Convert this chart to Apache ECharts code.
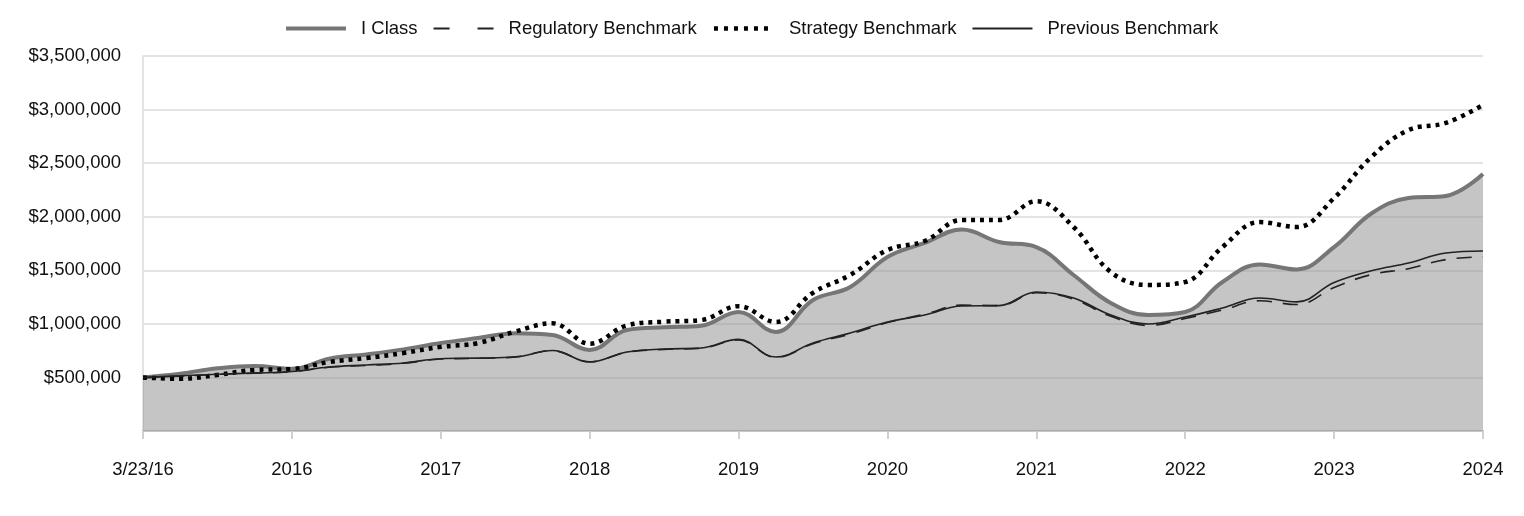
<!DOCTYPE html>
<html>
<head>
<meta charset="utf-8">
<script src="https://cdn.jsdelivr.net/npm/echarts@6/dist/echarts.min.js"></script>
<style>
html,body{margin:0;padding:0;background:#fff;}
#chart{width:1524px;height:516px;}
</style>
</head>
<body>
<div id="chart"></div>
<script>
// Tick labels (one per year, quarterly data points between them)
const tickLabels = ['3/23/16','2016','2017','2018','2019','2020','2021','2022','2023','2024'];
const pointsPerTick = 4;

// Series values (in thousands of dollars), quarterly
const iClass = [500,535,585,607,580,675,715,762,821,868,912,896,756,943,968,982,1111,924,1223,1344,1624,1755,1880,1764,1717,1456,1195,1083,1111,1391,1555,1508,1717,2030,2175,2193,2398];
const regulatory = [500,512,528,540,553,595,612,632,672,678,692,750,646,735,762,773,850,688,815,905,1012,1090,1175,1170,1290,1230,1070,985,1050,1130,1215,1180,1340,1460,1515,1600,1625];
const strategy = [500,487,523,570,578,644,681,728,785,821,928,1005,815,985,1020,1036,1165,1017,1290,1456,1689,1773,1969,1969,2145,1904,1484,1363,1391,1717,1950,1904,2175,2557,2809,2875,3043];
const previous = [500,515,530,541,555,597,616,635,675,680,690,752,644,737,765,775,855,690,821,915,1017,1083,1167,1170,1297,1241,1083,999,1064,1148,1241,1205,1385,1495,1568,1661,1680];

const seriesNames = ['I Class','Regulatory Benchmark','Strategy Benchmark','Previous Benchmark'];

const categories = [];
for (let i = 0; i < (tickLabels.length - 1) * pointsPerTick + 1; i++) {
  categories.push(i % pointsPerTick === 0 ? tickLabels[i / pointsPerTick] : '');
}
const k = v => v * 1000;

const styles = [
  {color: '#767676', width: 4, type: 'solid'},
  {color: '#222', width: 1.6, type: [15, 11]},
  {color: '#000', width: 4.5, type: [4, 5]},
  {color: '#222', width: 1.6, type: 'solid'}
];
const legendStyles = [
  {color: '#767676', width: 4, type: 'solid'},
  {color: '#222', width: 2, type: [16, 28]},
  {color: '#000', width: 4.5, type: [4, 6]},
  {color: '#222', width: 1.8, type: 'solid'}
];

const chart = echarts.init(document.getElementById('chart'), null, {renderer: 'canvas'});
const font = 'Liberation Sans, Arial, sans-serif';
const fs = 18.5;
chart.setOption({
  animation: false,
  textStyle: {fontFamily: font},
  legend: {
    top: 14,
    left: 279,
    itemWidth: 60,
    itemHeight: 12,
    itemGap: 15,
    itemStyle: {opacity: 0},
    textStyle: {fontSize: fs, color: '#111', fontFamily: font, padding: [0, 0, 0, 10]},
    data: seriesNames.map((n, i) => ({name: n, lineStyle: legendStyles[i], itemStyle: {opacity: 0}}))
  },
  grid: {left: 143, right: 41, top: 56, bottom: 85, containLabel: false},
  xAxis: {
    type: 'category',
    boundaryGap: false,
    data: categories,
    axisLine: {show: true, lineStyle: {color: '#c8c8c8', width: 2}},
    axisTick: {show: true, interval: pointsPerTick - 1, length: 8, lineStyle: {color: '#d0d0d0', width: 2}},
    axisLabel: {interval: pointsPerTick - 1, margin: 29, fontSize: fs, color: '#111', fontFamily: font},
    splitLine: {show: false}
  },
  yAxis: {
    type: 'value',
    min: 0,
    max: 3500000,
    interval: 500000,
    axisLine: {show: true, lineStyle: {color: '#e3e3e3', width: 2}},
    axisTick: {show: false},
    axisLabel: {
      fontSize: fs, color: '#111', margin: 22, fontFamily: font,
      formatter: v => v === 0 ? '' : '$' + v.toLocaleString('en-US')
    },
    splitLine: {show: true, lineStyle: {color: '#e4e4e4', width: 2}}
  },
  series: [
    {
      name: seriesNames[0], type: 'line', data: iClass.map(k), smooth: 0.4, symbol: 'none',
      lineStyle: styles[0], itemStyle: {color: styles[0].color},
      areaStyle: {color: 'rgba(140,140,140,0.5)', opacity: 1},
      z: 2
    },
    {
      name: seriesNames[1], type: 'line', data: regulatory.map(k), smooth: 0.4, symbol: 'none',
      lineStyle: styles[1], itemStyle: {color: styles[1].color},
      z: 3
    },
    {
      name: seriesNames[2], type: 'line', data: strategy.map(k), smooth: 0.4, symbol: 'none',
      lineStyle: styles[2], itemStyle: {color: styles[2].color},
      z: 4
    },
    {
      name: seriesNames[3], type: 'line', data: previous.map(k), smooth: 0.4, symbol: 'none',
      lineStyle: styles[3], itemStyle: {color: styles[3].color},
      z: 5
    }
  ]
});
</script>
</body>
</html>
